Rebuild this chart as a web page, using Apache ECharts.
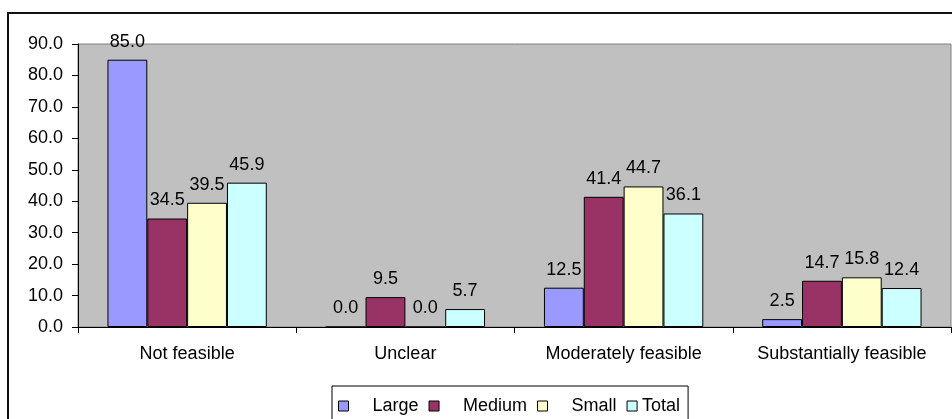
<!DOCTYPE html>
<html>
<head>
<meta charset="utf-8">
<script src="https://cdn.jsdelivr.net/npm/echarts@6/dist/echarts.min.js"></script>
<style>
  html, body { margin: 0; padding: 0; background: #fff; }
  #chart { width: 952px; height: 419px; }
</style>
</head>
<body>
<div id="chart"></div>
<script>
const categories = ['Not feasible', 'Unclear', 'Moderately feasible', 'Substantially feasible'];
const seriesNames = ['Large', 'Medium', 'Small', 'Total'];
const largeValues = [85.0, 0.0, 12.5, 2.5];
const mediumValues = [34.5, 9.5, 41.4, 14.7];
const smallValues = [39.5, 0.0, 44.7, 15.8];
const totalValues = [45.9, 5.7, 36.1, 12.4];
const yTicks = [0, 10, 20, 30, 40, 50, 60, 70, 80, 90];

const colors = ['#9999FF', '#993366', '#FFFFCC', '#CCFFFF'];
const font = "'Liberation Sans', Arial, sans-serif";

const chart = echarts.init(document.getElementById('chart'));

const makeBar = (name, data, color) => ({
    name: name,
    type: 'bar',
    data: data,
    barGap: '0%',
    barCategoryGap: '27%',
    itemStyle: { color: color, borderColor: '#000', borderWidth: 1 },
    label: {
        show: true,
        position: 'top',
        distance: 9,
        color: '#000',
        fontFamily: font,
        fontSize: 18,
        formatter: p => p.value.toFixed(1)
    }
});

const option = {
    animation: false,
    textStyle: { fontFamily: font },
    graphic: [
        {
            type: 'rect',
            shape: { x: 8, y: 13, width: 1000, height: 1000 },
            style: { fill: 'none', stroke: '#111', lineWidth: 2 },
            z: -10
        }
    ],
    grid: {
        left: 78,
        right: 1,
        top: 44,
        bottom: 92,
        show: true,
        backgroundColor: '#C0C0C0',
        borderColor: '#808080',
        borderWidth: 1
    },
    legend: {
        left: 332,
        top: 386,
        orient: 'horizontal',
        itemWidth: 10,
        itemHeight: 10,
        itemGap: 10,
        icon: 'rect',
        borderColor: '#000',
        borderWidth: 1,
        padding: [11, 8, 14, 6],
        itemStyle: { borderColor: '#000', borderWidth: 1 },
        textStyle: { fontFamily: font, fontSize: 18, color: '#000' },
        data: [
            { name: 'Large', textStyle: { padding: [0, 0, 0, 19] } },
            { name: 'Medium', textStyle: { padding: [0, 0, 0, 19] } },
            { name: 'Small', textStyle: { padding: [0, 0, 0, 19] } },
            { name: 'Total', textStyle: { padding: [0, 0, 0, 0] } }
        ]
    },
    xAxis: {
        type: 'category',
        data: categories,
        axisLine: { lineStyle: { color: '#000', width: 1 } },
        axisTick: { show: true, length: 6, lineStyle: { color: '#000' } },
        axisLabel: { color: '#000', fontSize: 18, fontFamily: font, margin: 18, interval: 0 }
    },
    yAxis: {
        type: 'value',
        min: yTicks[0],
        max: yTicks[yTicks.length - 1],
        interval: 10,
        splitLine: { show: false },
        axisLine: { show: true, lineStyle: { color: '#000', width: 1 } },
        axisTick: { show: true, length: 6, lineStyle: { color: '#000' } },
        axisLabel: {
            color: '#000',
            fontSize: 18,
            fontFamily: font,
            margin: 15,
            formatter: v => v.toFixed(1)
        }
    },
    series: [
        makeBar(seriesNames[0], largeValues, colors[0]),
        makeBar(seriesNames[1], mediumValues, colors[1]),
        makeBar(seriesNames[2], smallValues, colors[2]),
        makeBar(seriesNames[3], totalValues, colors[3])
    ]
};

chart.setOption(option);
</script>
</body>
</html>
